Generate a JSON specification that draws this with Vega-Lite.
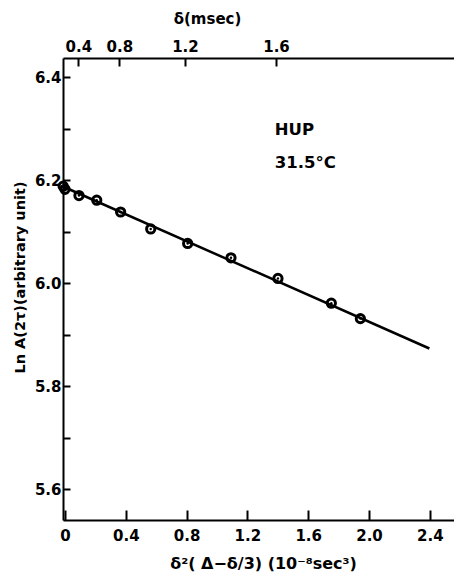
{
  "$schema": "https://vega.github.io/schema/vega-lite/v6.json",
  "width": 391,
  "height": 462,
  "autosize": "none",
  "padding": {"left": 63, "top": 58, "right": 0, "bottom": 57},
  "background": "white",
  "config": {
    "view": {"stroke": null},
    "font": "DejaVu Sans",
    "axis": {
      "grid": false,
      "domainColor": "black",
      "domainWidth": 2,
      "tickColor": "black",
      "tickWidth": 2,
      "labelColor": "black",
      "titleColor": "black",
      "labelFont": "DejaVu Sans",
      "titleFont": "DejaVu Sans",
      "labelFontWeight": "bold",
      "titleFontWeight": "bold",
      "labelFontSize": 15,
      "titleFontSize": 14
    }
  },
  "datasets": {
    "fit": [{"x": -0.01, "y": 6.187}, {"x": 2.397, "y": 5.873}],
    "obs": [
      {"x": -0.012, "y": 6.188},
      {"x": 0.0, "y": 6.182},
      {"x": 0.092, "y": 6.170},
      {"x": 0.209, "y": 6.161},
      {"x": 0.366, "y": 6.138},
      {"x": 0.564, "y": 6.105},
      {"x": 0.807, "y": 6.077},
      {"x": 1.092, "y": 6.049},
      {"x": 1.401, "y": 6.009},
      {"x": 1.752, "y": 5.961},
      {"x": 1.943, "y": 5.931}
    ],
    "notes": [
      {"x": 1.38, "y": 6.297, "label": "HUP"},
      {"x": 1.38, "y": 6.233, "label": "31.5°C"}
    ]
  },
  "layer": [
    {
      "data": {"name": "fit"},
      "mark": {"type": "line", "color": "black", "strokeWidth": 2.5},
      "encoding": {
        "x": {
          "field": "x", "type": "quantitative",
          "scale": {"domain": [-0.013, 2.559], "nice": false, "zero": false},
          "axis": {
            "orient": "top",
            "title": "δ(msec)",
            "titleFontSize": 15,
            "titleX": 144,
            "titleY": -40,
            "titleBaseline": "middle",
            "titleAnchor": "middle",
            "values": [0.0875, 0.358, 0.789, 1.388],
            "labelExpr": "datum.value < 0.2 ? '0.4' : datum.value < 0.5 ? '0.8' : datum.value < 1 ? '1.2' : '1.6'",
            "tickSize": -8,
            "labelPadding": 12,
            "labelFlush": false
          }
        },
        "y": {
          "field": "y", "type": "quantitative",
          "scale": {"domain": [5.54, 6.437], "nice": false, "zero": false},
          "axis": {
            "title": "Ln A(2τ)(arbitrary unit)",
            "titleFontSize": 14.5,
            "titleX": -43,
            "titleY": 219,
            "titleBaseline": "middle",
            "titleAnchor": "middle",
            "values": [5.6, 5.7, 5.8, 5.9, 6.0, 6.1, 6.2, 6.3, 6.4],
            "labelExpr": "round(datum.value * 10) % 2 == 0 ? format(datum.value, '.1f') : ''",
            "tickSize": -7,
            "labelPadding": 9
          }
        }
      }
    },
    {
      "data": {"name": "obs"},
      "mark": {"type": "point", "shape": "circle", "filled": false, "color": "black", "strokeWidth": 3, "size": 68, "opacity": 1},
      "encoding": {
        "x": {
          "field": "x", "type": "quantitative",
          "scale": {"domain": [-0.013, 2.559], "nice": false, "zero": false},
          "axis": {
            "orient": "bottom",
            "title": "δ²( Δ−δ/3) (10⁻⁸sec³)",
            "titleFontSize": 16,
            "titleX": 200,
            "titleY": 43,
            "titleBaseline": "middle",
            "titleAnchor": "middle",
            "values": [0, 0.4, 0.8, 1.2, 1.6, 2.0, 2.4],
            "labelExpr": "datum.value == 0 ? '0' : format(datum.value, '.1f')",
            "tickSize": -10,
            "labelPadding": 18,
            "labelFlush": false
          }
        },
        "y": {"field": "y", "type": "quantitative"}
      }
    },
    {
      "data": {"name": "obs"},
      "mark": {"type": "point", "shape": "circle", "filled": true, "color": "black", "size": 6, "opacity": 1},
      "encoding": {
        "x": {"field": "x", "type": "quantitative", "axis": null},
        "y": {"field": "y", "type": "quantitative"}
      }
    },
    {
      "data": {"name": "notes"},
      "mark": {"type": "text", "align": "left", "baseline": "middle", "font": "DejaVu Sans", "fontWeight": "bold", "fontSize": 16.5, "color": "black"},
      "encoding": {
        "x": {"field": "x", "type": "quantitative", "axis": null},
        "y": {"field": "y", "type": "quantitative"},
        "text": {"field": "label"}
      }
    }
  ],
  "resolve": {"axis": {"x": "independent"}}
}
